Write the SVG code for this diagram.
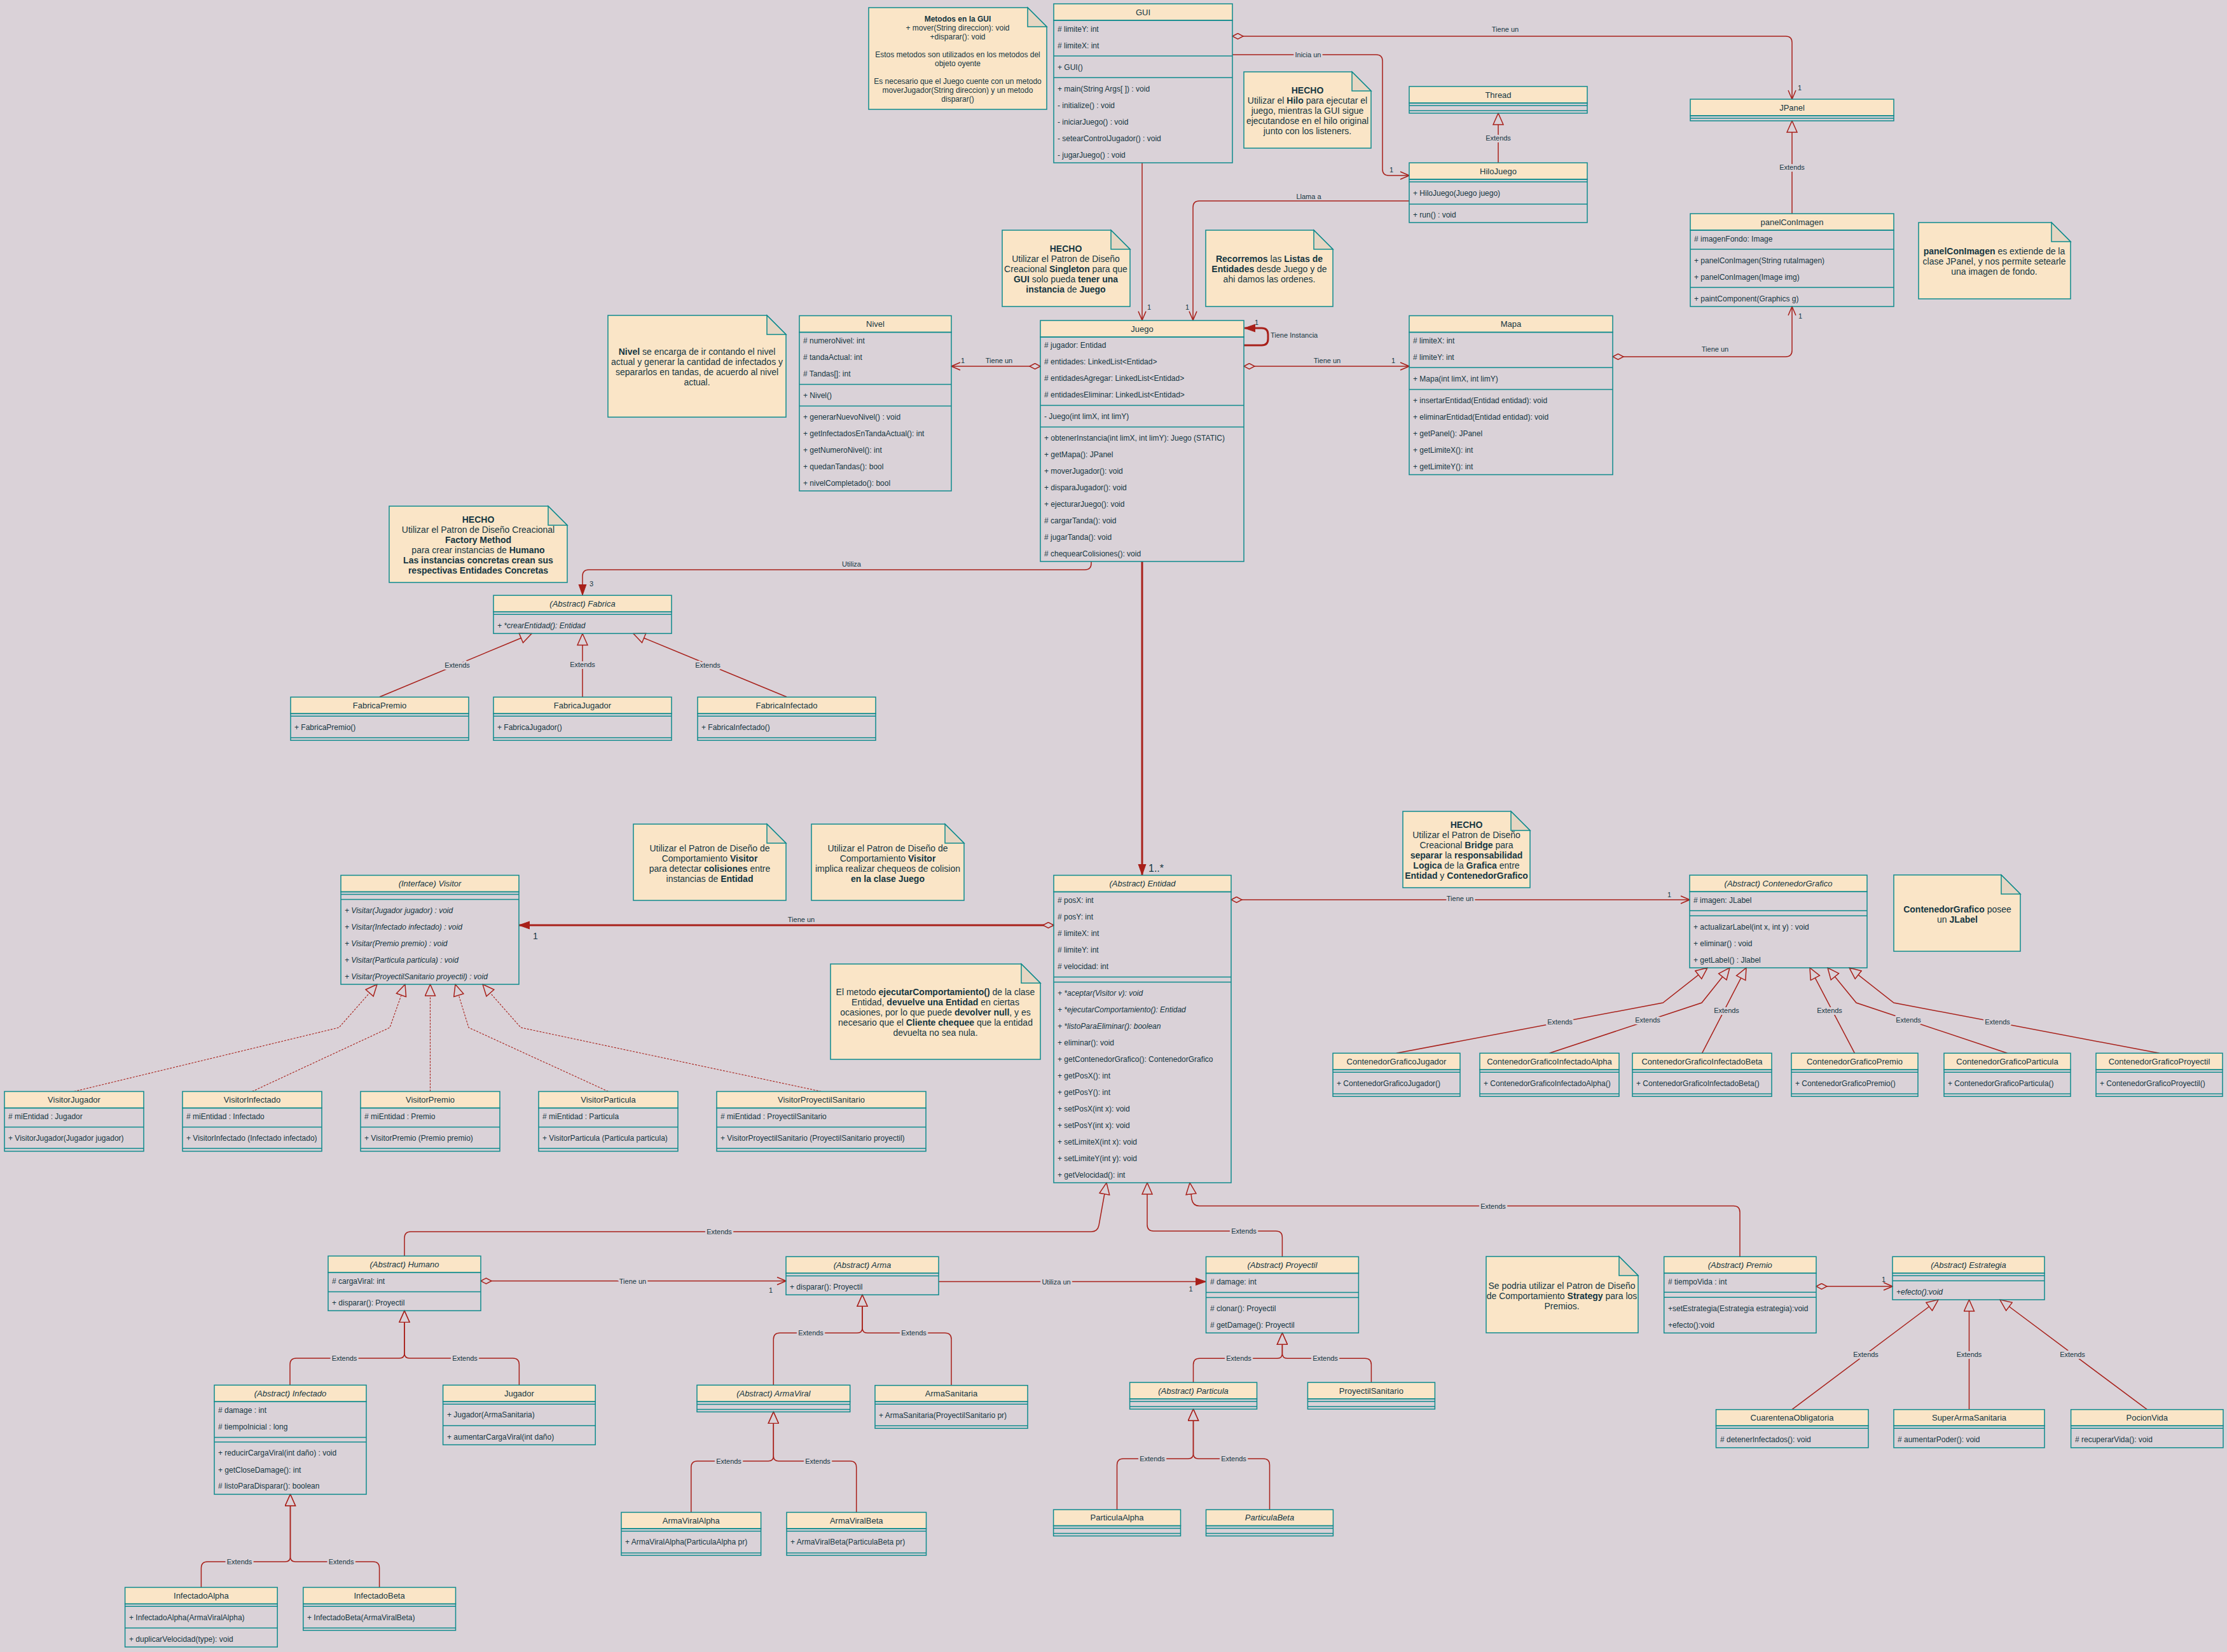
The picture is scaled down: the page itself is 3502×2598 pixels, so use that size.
<svg xmlns="http://www.w3.org/2000/svg" width="3502" height="2598" viewBox="0 0 3502 2598">
<style>
text{font-family:"Liberation Sans",Arial,sans-serif;fill:#143642}
.hd{fill:#FAE5C7;stroke:#0F8B8D;stroke-width:1.5}
.bd{fill:none;stroke:#0F8B8D;stroke-width:1.5}
.sp{fill:none;stroke:#0F8B8D;stroke-width:1.5}
.t{font-size:12px}
.n{font-size:13px;text-anchor:middle}
.i{font-style:italic}
.nb{fill:#FAE5C7;stroke:#0F8B8D;stroke-width:1.5}
.fd{fill:#E6D6C2;stroke:#0F8B8D;stroke-width:1.5}
.nt{font-size:14px;text-anchor:middle}
.ns{font-size:12px;text-anchor:middle}
.b{font-weight:bold}
.e{fill:none;stroke:#A8201A;stroke-width:1.5}
.ek{fill:none;stroke:#A8201A;stroke-width:3}
.d{stroke-dasharray:3 2;stroke-width:1.1}
.lb{font-size:11px;text-anchor:middle;paint-order:stroke;stroke:#DAD2D8;stroke-width:6;stroke-linejoin:round}
.lt{font-size:11px;text-anchor:middle}
</style>
<defs>
<marker id="tri" viewBox="0 0 20 18" refX="19" refY="9" markerWidth="20" markerHeight="18" markerUnits="userSpaceOnUse" orient="auto"><path d="M1,1 L19,9 L1,17 Z" fill="#DAD2D8" stroke="#A8201A" stroke-width="1.5"/></marker>
<marker id="oa" viewBox="0 0 16 14" refX="15" refY="7" markerWidth="16" markerHeight="14" markerUnits="userSpaceOnUse" orient="auto"><path d="M1,1 L15,7 L1,13" fill="none" stroke="#A8201A" stroke-width="1.5"/></marker>
<marker id="fa" viewBox="0 0 18 14" refX="17" refY="7" markerWidth="18" markerHeight="14" markerUnits="userSpaceOnUse" orient="auto"><path d="M0,1 L17,7 L0,13 Z" fill="#A8201A" stroke="#A8201A" stroke-width="1"/></marker>
<marker id="dm" viewBox="0 0 19 11" refX="1" refY="5.5" markerWidth="19" markerHeight="11" markerUnits="userSpaceOnUse" orient="auto"><path d="M1,5.5 L9.5,1 L18,5.5 L9.5,10 Z" fill="#DAD2D8" stroke="#A8201A" stroke-width="1.5"/></marker>
</defs>
<rect x="0" y="0" width="3502" height="2598" fill="#DAD2D8"/>

<g id="connectors">
<path class="e" marker-start="url(#dm)" marker-end="url(#oa)" d="M1938 57H2808Q2818 57 2818 67V156"/>
<path class="e" marker-end="url(#oa)" d="M1938 86H2164Q2174 86 2174 96V266Q2174 276 2184 276H2216"/>
<path class="e" marker-end="url(#tri)" d="M2356 256V178"/>
<path class="e" marker-end="url(#oa)" d="M2216 316H1886Q1876 316 1876 326V503.6"/>
<path class="e" marker-end="url(#oa)" d="M1796 256V503.6"/>
<path class="e" marker-end="url(#tri)" d="M2818 336V190"/>
<path class="e" marker-start="url(#dm)" marker-end="url(#oa)" d="M2536 561H2808Q2818 561 2818 551V482"/>
<path class="e" marker-start="url(#dm)" marker-end="url(#oa)" d="M1636 576H1496"/>
<path class="e" marker-start="url(#dm)" marker-end="url(#oa)" d="M1956 576H2216"/>
<path class="ek" marker-end="url(#fa)" d="M1956 543H1984Q1994 543 1994 533V526Q1994 516 1984 516H1957"/>
<path class="ek" marker-end="url(#fa)" d="M1796 883V1376"/>
<path class="e" marker-end="url(#fa)" d="M1716 883V886Q1716 896 1706 896H926Q916 896 916 906V936"/>
<path class="e" marker-end="url(#tri)" d="M597 1096L836 996.5"/>
<path class="e" marker-end="url(#tri)" d="M916 1096V996.5"/>
<path class="e" marker-end="url(#tri)" d="M1237 1096L996 996.5"/>
<path class="e d" marker-end="url(#tri)" d="M116.5 1716.5L533 1616L593 1548"/>
<path class="e d" marker-end="url(#tri)" d="M396.5 1716.5L613 1616L637 1548"/>
<path class="e d" marker-end="url(#tri)" d="M676.5 1716.5V1548"/>
<path class="e d" marker-end="url(#tri)" d="M956.5 1716.5L737 1616L716 1548"/>
<path class="e d" marker-end="url(#tri)" d="M1291.5 1716.5L819 1616L759 1548"/>
<path class="ek" marker-start="url(#dm)" marker-end="url(#fa)" d="M1657 1455H816"/>
<path class="e" marker-start="url(#dm)" marker-end="url(#oa)" d="M1936 1415H2657"/>
<path class="e" marker-end="url(#tri)" d="M2196 1656.3L2615 1577L2685 1522"/>
<path class="e" marker-end="url(#tri)" d="M2436.5 1656.3L2676 1577L2720 1522"/>
<path class="e" marker-end="url(#tri)" d="M2676.5 1656.3L2746 1522"/>
<path class="e" marker-end="url(#tri)" d="M2916.5 1656.3L2846 1522"/>
<path class="e" marker-end="url(#tri)" d="M3156.5 1656.3L2919 1577L2874 1522"/>
<path class="e" marker-end="url(#tri)" d="M3395.5 1656.3L2978 1577L2908 1522"/>
<path class="e" marker-end="url(#tri)" d="M636 1975.3V1947Q636 1937 646 1937H1716Q1726 1937 1728 1927L1740 1860"/>
<path class="e" marker-end="url(#tri)" d="M2016.4 1976.4V1946Q2016.4 1936 2006.4 1936H1814Q1804 1936 1804 1926V1860"/>
<path class="e" marker-end="url(#tri)" d="M2736 1976.3V1906.5Q2736 1896.5 2726 1896.5H1886Q1876 1896.5 1874 1886L1871 1860"/>
<path class="e" marker-start="url(#dm)" marker-end="url(#oa)" d="M756 2014.5H1236"/>
<path class="e" marker-end="url(#tri)" d="M456 2178.3V2146Q456 2136 466 2136H628Q636 2136 636 2128V2061.4"/>
<path class="e" marker-end="url(#tri)" d="M816.4 2178.3V2146Q816.4 2136 806.4 2136H644Q636 2136 636 2128V2061.4"/>
<path class="e" marker-end="url(#tri)" d="M316.4 2496.4V2466Q316.4 2456 326.4 2456H448.5Q456.5 2456 456.5 2448V2350"/>
<path class="e" marker-end="url(#tri)" d="M596.6 2496.4V2466Q596.6 2456 586.6 2456H464.5Q456.5 2456 456.5 2448V2350"/>
<path class="e" marker-end="url(#tri)" d="M1216.3 2178.3V2106.3Q1216.3 2096.3 1226.3 2096.3H1348Q1356 2096.3 1356 2088.3V2036.3"/>
<path class="e" marker-end="url(#tri)" d="M1496 2178.7V2106.3Q1496 2096.3 1486 2096.3H1364Q1356 2096.3 1356 2088.3V2036.3"/>
<path class="e" marker-end="url(#tri)" d="M1086.8 2378.4V2307.7Q1086.8 2297.7 1096.8 2297.7H1208.3Q1216.3 2297.7 1216.3 2289.7V2220.4"/>
<path class="e" marker-end="url(#tri)" d="M1346.7 2378.4V2307.7Q1346.7 2297.7 1336.7 2297.7H1224.3Q1216.3 2297.7 1216.3 2289.7V2220.4"/>
<path class="e" marker-end="url(#fa)" d="M1476 2015.5H1896.5"/>
<path class="e" marker-end="url(#tri)" d="M1876.5 2174.1V2146.2Q1876.5 2136.2 1886.5 2136.2H2008.4Q2016.4 2136.2 2016.4 2128.2V2096.2"/>
<path class="e" marker-end="url(#tri)" d="M2156.4 2174.1V2146.2Q2156.4 2136.2 2146.4 2136.2H2024.4Q2016.4 2136.2 2016.4 2128.2V2096.2"/>
<path class="e" marker-end="url(#tri)" d="M1756.5 2374.2V2304Q1756.5 2294 1766.5 2294H1868.5Q1876.5 2294 1876.5 2286V2216"/>
<path class="e" marker-end="url(#tri)" d="M1996.5 2374.2V2304Q1996.5 2294 1986.5 2294H1884.5Q1876.5 2294 1876.5 2286V2216"/>
<path class="e" marker-start="url(#dm)" marker-end="url(#oa)" d="M2856 2023H2976"/>
<path class="e" marker-end="url(#tri)" d="M2818 2216.7L3048 2044"/>
<path class="e" marker-end="url(#tri)" d="M3096.5 2216.7V2044"/>
<path class="e" marker-end="url(#tri)" d="M3376.3 2216.7L3145 2044"/>

<text class="lt" x="2367" y="50">Tiene un</text>
<text class="lt" x="2830" y="142">1</text>
<text class="lb" x="2057" y="90">Inicia un</text>
<text class="lt" x="2188" y="271">1</text>
<text class="lb" x="2356" y="221">Extends</text>
<text class="lt" x="2058" y="313">Llama a</text>
<text class="lt" x="1807" y="487">1</text>
<text class="lt" x="1867" y="487">1</text>
<text class="lb" x="2818" y="267">Extends</text>
<text class="lt" x="2697" y="553">Tiene un</text>
<text class="lt" x="2831" y="501">1</text>
<text class="lt" x="1571" y="571">Tiene un</text>
<text class="lt" x="1514" y="571">1</text>
<text class="lt" x="2087" y="571">Tiene un</text>
<text class="lt" x="2191" y="571">1</text>
<text class="lt" x="1976" y="511">1</text>
<text class="lt" x="1998" y="531" style="text-anchor:start">Tiene Instancia</text>
<text x="1806" y="1371" style="font-size:16px">1..*</text>
<text class="lt" x="1339" y="891">Utiliza</text>
<text class="lt" x="930" y="922">3</text>
<text class="lb" x="719" y="1050">Extends</text>
<text class="lb" x="916" y="1049">Extends</text>
<text class="lb" x="1113" y="1050">Extends</text>
<text class="lt" x="1260" y="1450">Tiene un</text>
<text x="842" y="1477" style="font-size:14px;text-anchor:middle">1</text>
<text class="lb" x="2296" y="1417">Tiene un</text>
<text class="lt" x="2625" y="1411">1</text>
<text class="lb" x="2453" y="1611">Extends</text>
<text class="lb" x="2591" y="1608">Extends</text>
<text class="lb" x="2715" y="1593">Extends</text>
<text class="lb" x="2877" y="1593">Extends</text>
<text class="lb" x="3001" y="1608">Extends</text>
<text class="lb" x="3141" y="1611">Extends</text>
<text class="lb" x="1131" y="1941">Extends</text>
<text class="lb" x="1956" y="1940">Extends</text>
<text class="lb" x="2348" y="1900.5">Extends</text>
<text class="lb" x="995" y="2018.5">Tiene un</text>
<text class="lt" x="1212" y="2033">1</text>
<text class="lb" x="541.5" y="2140">Extends</text>
<text class="lb" x="731" y="2140">Extends</text>
<text class="lb" x="376.5" y="2460">Extends</text>
<text class="lb" x="536.6" y="2460">Extends</text>
<text class="lb" x="1275" y="2100">Extends</text>
<text class="lb" x="1437" y="2100">Extends</text>
<text class="lb" x="1146" y="2301.7">Extends</text>
<text class="lb" x="1286" y="2301.7">Extends</text>
<text class="lb" x="1661" y="2019.5">Utiliza un</text>
<text class="lt" x="1872.5" y="2031">1</text>
<text class="lb" x="1948" y="2140">Extends</text>
<text class="lb" x="2084" y="2140">Extends</text>
<text class="lb" x="1812" y="2298">Extends</text>
<text class="lb" x="1940" y="2298">Extends</text>
<text class="lt" x="2962" y="2016">1</text>
<text class="lb" x="2934" y="2134">Extends</text>
<text class="lb" x="3096.5" y="2134">Extends</text>
<text class="lb" x="3259" y="2134">Extends</text>
</g>

<g id="note-gui">
<path class="nb" d="M1366 12H1616L1646 42V172H1366Z"/><path class="fd" d="M1616 12V42H1646Z"/>
<text class="ns b" x="1506" y="34">Metodos en la GUI</text>
<text class="ns" x="1506" y="48">+ mover(String direccion): void</text>
<text class="ns" x="1506" y="62">+disparar(): void</text>
<text class="ns" x="1506" y="90">Estos metodos son utilizados en los metodos del</text>
<text class="ns" x="1506" y="104">objeto oyente</text>
<text class="ns" x="1506" y="132">Es necesario que el Juego cuente con un metodo</text>
<text class="ns" x="1506" y="146">moverJugador(String direccion) y un metodo</text>
<text class="ns" x="1506" y="160">disparar()</text>
</g>
<g id="note-hilo">
<path class="nb" d="M1956 113H2126L2156 143V233H1956Z"/><path class="fd" d="M2126 113V143H2156Z"/>
<text class="nt b" x="2056" y="147">HECHO</text>
<text class="nt" x="2056" y="163">Utilizar el <tspan class="b">Hilo</tspan> para ejecutar el</text>
<text class="nt" x="2056" y="179">juego, mientras la GUI sigue</text>
<text class="nt" x="2056" y="195">ejecutandose en el hilo original</text>
<text class="nt" x="2056" y="211">junto con los listeners.</text>
</g>
<g id="note-singleton">
<path class="nb" d="M1576 362H1747L1777 392V482H1576Z"/><path class="fd" d="M1747 362V392H1777Z"/>
<text class="nt b" x="1676" y="396">HECHO</text>
<text class="nt" x="1676" y="412">Utilizar el Patron de Diseño</text>
<text class="nt" x="1676" y="428">Creacional <tspan class="b">Singleton</tspan> para que</text>
<text class="nt" x="1676" y="444"><tspan class="b">GUI</tspan> solo pueda <tspan class="b">tener una</tspan></text>
<text class="nt" x="1676" y="460"><tspan class="b">instancia</tspan> de <tspan class="b">Juego</tspan></text>
</g>
<g id="note-listas">
<path class="nb" d="M1896 362H2066L2096 392V482H1896Z"/><path class="fd" d="M2066 362V392H2096Z"/>
<text class="nt" x="1996" y="412"><tspan class="b">Recorremos</tspan> las <tspan class="b">Listas de</tspan></text>
<text class="nt" x="1996" y="428"><tspan class="b">Entidades</tspan> desde Juego y de</text>
<text class="nt" x="1996" y="444">ahi damos las ordenes.</text>
</g>
<g id="note-nivel">
<path class="nb" d="M956 496H1206L1236 526V656H956Z"/><path class="fd" d="M1206 496V526H1236Z"/>
<text class="nt" x="1096" y="558"><tspan class="b">Nivel</tspan> se encarga de ir contando el nivel</text>
<text class="nt" x="1096" y="574">actual y generar la cantidad de infectados y</text>
<text class="nt" x="1096" y="590">separarlos en tandas, de acuerdo al nivel</text>
<text class="nt" x="1096" y="606">actual.</text>
</g>
<g id="note-panel">
<path class="nb" d="M3017 350H3226L3256 380V470H3017Z"/><path class="fd" d="M3226 350V380H3256Z"/>
<text class="nt" x="3136" y="400"><tspan class="b">panelConImagen</tspan> es extiende de la</text>
<text class="nt" x="3136" y="416">clase JPanel, y nos permite setearle</text>
<text class="nt" x="3136" y="432">una imagen de fondo.</text>
</g>
<g id="note-factory">
<path class="nb" d="M612 796H862L892 826V916H612Z"/><path class="fd" d="M862 796V826H892Z"/>
<text class="nt b" x="752" y="822">HECHO</text>
<text class="nt" x="752" y="838">Utilizar el Patron de Diseño Creacional</text>
<text class="nt b" x="752" y="854">Factory Method</text>
<text class="nt" x="752" y="870">para crear instancias de <tspan class="b">Humano</tspan></text>
<text class="nt b" x="752" y="886">Las instancias concretas crean sus</text>
<text class="nt b" x="752" y="902">respectivas Entidades Concretas</text>
</g>
<g id="note-visitor1">
<path class="nb" d="M996 1296H1206L1236 1326V1416H996Z"/><path class="fd" d="M1206 1296V1326H1236Z"/>
<text class="nt" x="1116" y="1338.5">Utilizar el Patron de Diseño de</text>
<text class="nt" x="1116" y="1354.5">Comportamiento <tspan class="b">Visitor</tspan></text>
<text class="nt" x="1116" y="1370.5">para detectar <tspan class="b">colisiones</tspan> entre</text>
<text class="nt" x="1116" y="1386.5">instancias de <tspan class="b">Entidad</tspan></text>
</g>
<g id="note-visitor2">
<path class="nb" d="M1276 1296H1486L1516 1326V1416H1276Z"/><path class="fd" d="M1486 1296V1326H1516Z"/>
<text class="nt" x="1396" y="1338.5">Utilizar el Patron de Diseño de</text>
<text class="nt" x="1396" y="1354.5">Comportamiento <tspan class="b">Visitor</tspan></text>
<text class="nt" x="1396" y="1370.5">implica realizar chequeos de colision</text>
<text class="nt b" x="1396" y="1386.5">en la clase Juego</text>
</g>
<g id="note-ejecutar">
<path class="nb" d="M1306 1516H1606L1636 1546V1666H1306Z"/><path class="fd" d="M1606 1516V1546H1636Z"/>
<text class="nt" x="1471" y="1565">El metodo <tspan class="b">ejecutarComportamiento()</tspan> de la clase</text>
<text class="nt" x="1471" y="1581">Entidad, <tspan class="b">devuelve una Entidad</tspan> en ciertas</text>
<text class="nt" x="1471" y="1597">ocasiones, por lo que puede <tspan class="b">devolver null</tspan>, y es</text>
<text class="nt" x="1471" y="1613">necesario que el <tspan class="b">Cliente chequee</tspan> que la entidad</text>
<text class="nt" x="1471" y="1629">devuelta no sea nula.</text>
</g>
<g id="note-bridge">
<path class="nb" d="M2206 1276H2376L2406 1306V1396H2206Z"/><path class="fd" d="M2376 1276V1306H2406Z"/>
<text class="nt b" x="2306" y="1302">HECHO</text>
<text class="nt" x="2306" y="1318">Utilizar el Patron de Diseño</text>
<text class="nt" x="2306" y="1334">Creacional <tspan class="b">Bridge</tspan> para</text>
<text class="nt" x="2306" y="1350"><tspan class="b">separar</tspan> la <tspan class="b">responsabilidad</tspan></text>
<text class="nt" x="2306" y="1366"><tspan class="b">Logica</tspan> de la <tspan class="b">Grafica</tspan> entre</text>
<text class="nt" x="2306" y="1382"><tspan class="b">Entidad</tspan> y <tspan class="b">ContenedorGrafico</tspan></text>
</g>
<g id="note-contenedor">
<path class="nb" d="M2978 1376H3147L3177 1406V1496H2978Z"/><path class="fd" d="M3147 1376V1406H3177Z"/>
<text class="nt" x="3078" y="1434.5"><tspan class="b">ContenedorGrafico</tspan> posee</text>
<text class="nt" x="3078" y="1450.5">un <tspan class="b">JLabel</tspan></text>
</g>
<g id="note-strategy">
<path class="nb" d="M2337 1976H2546L2576 2006V2096H2337Z"/><path class="fd" d="M2546 1976V2006H2576Z"/>
<text class="nt" x="2456" y="2026.5">Se podria utilizar el Patron de Diseño</text>
<text class="nt" x="2456" y="2042.5">de Comportamiento <tspan class="b">Strategy</tspan> para los</text>
<text class="nt" x="2456" y="2058.5">Premios.</text>
</g>

<g id="GUI">
<rect class="hd" x="1657" y="6" width="281" height="26"/><rect class="bd" x="1657" y="32" width="281" height="224"/>
<path class="sp" d="M1657 88H1938M1657 122H1938"/>
<text class="n" x="1797.5" y="23.5">GUI</text>
<text class="t" x="1663" y="50"># limiteY: int</text>
<text class="t" x="1663" y="76"># limiteX: int</text>
<text class="t" x="1663" y="110">+ GUI()</text>
<text class="t" x="1663" y="144">+ main(String Args[ ]) : void</text>
<text class="t" x="1663" y="170">- initialize() : void</text>
<text class="t" x="1663" y="196">- iniciarJuego() : void</text>
<text class="t" x="1663" y="222">- setearControlJugador() : void</text>
<text class="t" x="1663" y="248">- jugarJuego() : void</text>
</g>
<g id="Thread">
<rect class="hd" x="2216" y="136" width="280" height="26"/><rect class="bd" x="2216" y="162" width="280" height="16"/>
<path class="sp" d="M2216 166H2496M2216 174H2496"/>
<text class="n" x="2356" y="153.5">Thread</text>
</g>
<g id="HiloJuego">
<rect class="hd" x="2216" y="256" width="280" height="26"/><rect class="bd" x="2216" y="282" width="280" height="68"/>
<path class="sp" d="M2216 286H2496M2216 321H2496"/>
<text class="n" x="2356" y="273.5">HiloJuego</text>
<text class="t" x="2222" y="308">+ HiloJuego(Juego juego)</text>
<text class="t" x="2222" y="342">+ run() : void</text>
</g>
<g id="JPanel">
<rect class="hd" x="2658" y="156" width="320" height="26"/><rect class="bd" x="2658" y="182" width="320" height="8"/>
<path class="sp" d="M2658 186H2978"/>
<text class="n" x="2818" y="173.5">JPanel</text>
</g>
<g id="panelConImagen">
<rect class="hd" x="2658" y="336" width="320" height="26"/><rect class="bd" x="2658" y="362" width="320" height="120"/>
<path class="sp" d="M2658 392H2978M2658 452H2978"/>
<text class="n" x="2818" y="353.5">panelConImagen</text>
<text class="t" x="2664" y="380"># imagenFondo: Image</text>
<text class="t" x="2664" y="414">+ panelConImagen(String rutaImagen)</text>
<text class="t" x="2664" y="440">+ panelConImagen(Image img)</text>
<text class="t" x="2664" y="474">+ paintComponent(Graphics g)</text>
</g>
<g id="Juego">
<rect class="hd" x="1636" y="504" width="320" height="26"/><rect class="bd" x="1636" y="530" width="320" height="353"/>
<path class="sp" d="M1636 637.5H1956M1636 671.5H1956"/>
<text class="n" x="1796" y="521.5">Juego</text>
<text class="t" x="1642" y="547"># jugador: Entidad</text>
<text class="t" x="1642" y="573"># entidades: LinkedList&lt;Entidad&gt;</text>
<text class="t" x="1642" y="599"># entidadesAgregar: LinkedList&lt;Entidad&gt;</text>
<text class="t" x="1642" y="625"># entidadesEliminar: LinkedList&lt;Entidad&gt;</text>
<text class="t" x="1642" y="659">- Juego(int limX, int limY)</text>
<text class="t" x="1642" y="693">+ obtenerInstancia(int limX, int limY): Juego (STATIC)</text>
<text class="t" x="1642" y="719">+ getMapa(): JPanel</text>
<text class="t" x="1642" y="745">+ moverJugador(): void</text>
<text class="t" x="1642" y="771">+ disparaJugador(): void</text>
<text class="t" x="1642" y="797">+ ejecturarJuego(): void</text>
<text class="t" x="1642" y="823"># cargarTanda(): void</text>
<text class="t" x="1642" y="849"># jugarTanda(): void</text>
<text class="t" x="1642" y="875"># chequearColisiones(): void</text>
</g>
<g id="Nivel">
<rect class="hd" x="1257" y="496.5" width="239" height="26"/><rect class="bd" x="1257" y="522.5" width="239" height="249.5"/>
<path class="sp" d="M1257 604.5H1496M1257 638.5H1496"/>
<text class="n" x="1376.5" y="514">Nivel</text>
<text class="t" x="1263" y="540"># numeroNivel: int</text>
<text class="t" x="1263" y="566"># tandaActual: int</text>
<text class="t" x="1263" y="592"># Tandas[]: int</text>
<text class="t" x="1263" y="626">+ Nivel()</text>
<text class="t" x="1263" y="660">+ generarNuevoNivel() : void</text>
<text class="t" x="1263" y="686">+ getInfectadosEnTandaActual(): int</text>
<text class="t" x="1263" y="712">+ getNumeroNivel(): int</text>
<text class="t" x="1263" y="738">+ quedanTandas(): bool</text>
<text class="t" x="1263" y="764">+ nivelCompletado(): bool</text>
</g>
<g id="Mapa">
<rect class="hd" x="2216" y="496.5" width="320" height="26"/><rect class="bd" x="2216" y="522.5" width="320" height="224"/>
<path class="sp" d="M2216 578H2536M2216 612.5H2536"/>
<text class="n" x="2376" y="514">Mapa</text>
<text class="t" x="2222" y="540"># limiteX: int</text>
<text class="t" x="2222" y="566"># limiteY: int</text>
<text class="t" x="2222" y="600">+ Mapa(int limX, int limY)</text>
<text class="t" x="2222" y="634">+ insertarEntidad(Entidad entidad): void</text>
<text class="t" x="2222" y="660">+ eliminarEntidad(Entidad entidad): void</text>
<text class="t" x="2222" y="686">+ getPanel(): JPanel</text>
<text class="t" x="2222" y="712">+ getLimiteX(): int</text>
<text class="t" x="2222" y="738">+ getLimiteY(): int</text>
</g>
<g id="Fabrica">
<rect class="hd" x="776" y="936.3" width="280" height="26"/><rect class="bd" x="776" y="962.3" width="280" height="34"/>
<path class="sp" d="M776 966.3H1056"/>
<text class="n i" x="916" y="953.8">(Abstract) Fabrica</text>
<text class="t i" x="782" y="988">+ *crearEntidad(): Entidad</text>
</g>
<g id="FabricaPremio">
<rect class="hd" x="457" y="1096.3" width="280" height="26"/><rect class="bd" x="457" y="1122.3" width="280" height="42"/>
<path class="sp" d="M457 1126.3H737M457 1160.3H737"/>
<text class="n" x="597" y="1113.8">FabricaPremio</text>
<text class="t" x="463" y="1148">+ FabricaPremio()</text>
</g>
<g id="FabricaJugador">
<rect class="hd" x="776" y="1096.3" width="280" height="26"/><rect class="bd" x="776" y="1122.3" width="280" height="42"/>
<path class="sp" d="M776 1126.3H1056M776 1160.3H1056"/>
<text class="n" x="916" y="1113.8">FabricaJugador</text>
<text class="t" x="782" y="1148">+ FabricaJugador()</text>
</g>
<g id="FabricaInfectado">
<rect class="hd" x="1097" y="1096.3" width="280" height="26"/><rect class="bd" x="1097" y="1122.3" width="280" height="42"/>
<path class="sp" d="M1097 1126.3H1377M1097 1160.3H1377"/>
<text class="n" x="1237" y="1113.8">FabricaInfectado</text>
<text class="t" x="1103" y="1148">+ FabricaInfectado()</text>
</g>
<g id="Visitor">
<rect class="hd" x="536" y="1376.5" width="280" height="26"/><rect class="bd" x="536" y="1402.5" width="280" height="145.5"/>
<path class="sp" d="M536 1406.5H816M536 1414.5H816"/>
<text class="n i" x="676" y="1394">(Interface) Visitor</text>
<text class="t i" x="542" y="1436">+ Visitar(Jugador jugador) : void</text>
<text class="t i" x="542" y="1462">+ Visitar(Infectado infectado) : void</text>
<text class="t i" x="542" y="1488">+ Visitar(Premio premio) : void</text>
<text class="t i" x="542" y="1514">+ Visitar(Particula particula) : void</text>
<text class="t i" x="542" y="1540">+ Visitar(ProyectilSanitario proyectil) : void</text>
</g>
<g id="VisitorJugador">
<rect class="hd" x="7" y="1716.5" width="219" height="26"/><rect class="bd" x="7" y="1742.5" width="219" height="68"/>
<path class="sp" d="M7 1772.5H226M7 1806H226"/>
<text class="n" x="116.5" y="1734">VisitorJugador</text>
<text class="t" x="13" y="1760"># miEntidad : Jugador</text>
<text class="t" x="13" y="1794">+ VisitorJugador(Jugador jugador)</text>
</g>
<g id="VisitorInfectado">
<rect class="hd" x="287" y="1716.5" width="219" height="26"/><rect class="bd" x="287" y="1742.5" width="219" height="68"/>
<path class="sp" d="M287 1772.5H506M287 1806H506"/>
<text class="n" x="396.5" y="1734">VisitorInfectado</text>
<text class="t" x="293" y="1760"># miEntidad : Infectado</text>
<text class="t" x="293" y="1794">+ VisitorInfectado (Infectado infectado)</text>
</g>
<g id="VisitorPremio">
<rect class="hd" x="567" y="1716.5" width="219" height="26"/><rect class="bd" x="567" y="1742.5" width="219" height="68"/>
<path class="sp" d="M567 1772.5H786M567 1806H786"/>
<text class="n" x="676.5" y="1734">VisitorPremio</text>
<text class="t" x="573" y="1760"># miEntidad : Premio</text>
<text class="t" x="573" y="1794">+ VisitorPremio (Premio premio)</text>
</g>
<g id="VisitorParticula">
<rect class="hd" x="847" y="1716.5" width="219" height="26"/><rect class="bd" x="847" y="1742.5" width="219" height="68"/>
<path class="sp" d="M847 1772.5H1066M847 1806H1066"/>
<text class="n" x="956.5" y="1734">VisitorParticula</text>
<text class="t" x="853" y="1760"># miEntidad : Particula</text>
<text class="t" x="853" y="1794">+ VisitorParticula (Particula particula)</text>
</g>
<g id="VisitorProyectilSanitario">
<rect class="hd" x="1127" y="1716.5" width="329" height="26"/><rect class="bd" x="1127" y="1742.5" width="329" height="68"/>
<path class="sp" d="M1127 1772.5H1456M1127 1806H1456"/>
<text class="n" x="1291.5" y="1734">VisitorProyectilSanitario</text>
<text class="t" x="1133" y="1760"># miEntidad : ProyectilSanitario</text>
<text class="t" x="1133" y="1794">+ VisitorProyectilSanitario (ProyectilSanitario proyectil)</text>
</g>
<g id="Entidad">
<rect class="hd" x="1657" y="1376.5" width="279" height="26"/><rect class="bd" x="1657" y="1402.5" width="279" height="457.5"/>
<path class="sp" d="M1657 1536.5H1936M1657 1544.5H1936"/>
<text class="n i" x="1796.5" y="1394">(Abstract) Entidad</text>
<text class="t" x="1663" y="1420"># posX: int</text>
<text class="t" x="1663" y="1446"># posY: int</text>
<text class="t" x="1663" y="1472"># limiteX: int</text>
<text class="t" x="1663" y="1498"># limiteY: int</text>
<text class="t" x="1663" y="1524"># velocidad: int</text>
<text class="t i" x="1663" y="1566">+ *aceptar(Visitor v): void</text>
<text class="t i" x="1663" y="1592">+ *ejecutarComportamiento(): Entidad</text>
<text class="t i" x="1663" y="1618">+ *listoParaEliminar(): boolean</text>
<text class="t" x="1663" y="1644">+ eliminar(): void</text>
<text class="t" x="1663" y="1670">+ getContenedorGrafico(): ContenedorGrafico</text>
<text class="t" x="1663" y="1696">+ getPosX(): int</text>
<text class="t" x="1663" y="1722">+ getPosY(): int</text>
<text class="t" x="1663" y="1748">+ setPosX(int x): void</text>
<text class="t" x="1663" y="1774">+ setPosY(int x): void</text>
<text class="t" x="1663" y="1800">+ setLimiteX(int x): void</text>
<text class="t" x="1663" y="1826">+ setLimiteY(int y): void</text>
<text class="t" x="1663" y="1852">+ getVelocidad(): int</text>
</g>
<g id="ContenedorGrafico">
<rect class="hd" x="2657" y="1376.3" width="279" height="26"/><rect class="bd" x="2657" y="1402.3" width="279" height="119.7"/>
<path class="sp" d="M2657 1432.3H2936M2657 1440.3H2936"/>
<text class="n i" x="2796.5" y="1394">(Abstract) ContenedorGrafico</text>
<text class="t" x="2663" y="1420"># imagen: JLabel</text>
<text class="t" x="2663" y="1462">+ actualizarLabel(int x, int y) : void</text>
<text class="t" x="2663" y="1488">+ eliminar() : void</text>
<text class="t" x="2663" y="1514">+ getLabel() : Jlabel</text>
</g>
<g id="ContenedorGraficoJugador">
<rect class="hd" x="2096" y="1656.3" width="200" height="26"/><rect class="bd" x="2096" y="1682.3" width="200" height="42"/>
<path class="sp" d="M2096 1686.3H2296M2096 1720.3H2296"/>
<text class="n" x="2196" y="1673.8">ContenedorGraficoJugador</text>
<text class="t" x="2102" y="1708">+ ContenedorGraficoJugador()</text>
</g>
<g id="ContenedorGraficoInfectadoAlpha">
<rect class="hd" x="2327" y="1656.3" width="219" height="26"/><rect class="bd" x="2327" y="1682.3" width="219" height="42"/>
<path class="sp" d="M2327 1686.3H2546M2327 1720.3H2546"/>
<text class="n" x="2436.5" y="1673.8">ContenedorGraficoInfectadoAlpha</text>
<text class="t" x="2333" y="1708">+ ContenedorGraficoInfectadoAlpha()</text>
</g>
<g id="ContenedorGraficoInfectadoBeta">
<rect class="hd" x="2567" y="1656.3" width="219" height="26"/><rect class="bd" x="2567" y="1682.3" width="219" height="42"/>
<path class="sp" d="M2567 1686.3H2786M2567 1720.3H2786"/>
<text class="n" x="2676.5" y="1673.8">ContenedorGraficoInfectadoBeta</text>
<text class="t" x="2573" y="1708">+ ContenedorGraficoInfectadoBeta()</text>
</g>
<g id="ContenedorGraficoPremio">
<rect class="hd" x="2817" y="1656.3" width="199" height="26"/><rect class="bd" x="2817" y="1682.3" width="199" height="42"/>
<path class="sp" d="M2817 1686.3H3016M2817 1720.3H3016"/>
<text class="n" x="2916.5" y="1673.8">ContenedorGraficoPremio</text>
<text class="t" x="2823" y="1708">+ ContenedorGraficoPremio()</text>
</g>
<g id="ContenedorGraficoParticula">
<rect class="hd" x="3057" y="1656.3" width="199" height="26"/><rect class="bd" x="3057" y="1682.3" width="199" height="42"/>
<path class="sp" d="M3057 1686.3H3256M3057 1720.3H3256"/>
<text class="n" x="3156.5" y="1673.8">ContenedorGraficoParticula</text>
<text class="t" x="3063" y="1708">+ ContenedorGraficoParticula()</text>
</g>
<g id="ContenedorGraficoProyectil">
<rect class="hd" x="3296" y="1656.3" width="199" height="26"/><rect class="bd" x="3296" y="1682.3" width="199" height="42"/>
<path class="sp" d="M3296 1686.3H3495M3296 1720.3H3495"/>
<text class="n" x="3395.5" y="1673.8">ContenedorGraficoProyectil</text>
<text class="t" x="3302" y="1708">+ ContenedorGraficoProyectil()</text>
</g>
<g id="Humano">
<rect class="hd" x="516" y="1975.3" width="240" height="26"/><rect class="bd" x="516" y="2001.3" width="240" height="60"/>
<path class="sp" d="M516 2031.4H756"/>
<text class="n i" x="636" y="1992.8">(Abstract) Humano</text>
<text class="t" x="522" y="2018.5"># cargaViral: int</text>
<text class="t" x="522" y="2053">+ disparar(): Proyectil</text>
</g>
<g id="Arma">
<rect class="hd" x="1236" y="1976.3" width="240" height="26"/><rect class="bd" x="1236" y="2002.3" width="240" height="34"/>
<path class="sp" d="M1236 2006.4H1476"/>
<text class="n i" x="1356" y="1993.8">(Abstract) Arma</text>
<text class="t" x="1242" y="2028">+ disparar(): Proyectil</text>
</g>
<g id="Infectado">
<rect class="hd" x="337" y="2178.3" width="239" height="26"/><rect class="bd" x="337" y="2204.3" width="239" height="145.7"/>
<path class="sp" d="M337 2260.5H576M337 2267.7H576"/>
<text class="n i" x="456.5" y="2195.8">(Abstract) Infectado</text>
<text class="t" x="343" y="2221.5"># damage : int</text>
<text class="t" x="343" y="2247.6"># tiempoInicial : long</text>
<text class="t" x="343" y="2289">+ reducirCargaViral(int daño) : void</text>
<text class="t" x="343" y="2315.6">+ getCloseDamage(): int</text>
<text class="t" x="343" y="2341.3"># listoParaDisparar(): boolean</text>
</g>
<g id="Jugador">
<rect class="hd" x="696.6" y="2178.3" width="239.6" height="26"/><rect class="bd" x="696.6" y="2204.3" width="239.6" height="67.8"/>
<path class="sp" d="M696.6 2208.3H936.2M696.6 2242H936.2"/>
<text class="n" x="816.4" y="2195.8">Jugador</text>
<text class="t" x="703" y="2229.2">+ Jugador(ArmaSanitaria)</text>
<text class="t" x="703" y="2263.5">+ aumentarCargaViral(int daño)</text>
</g>
<g id="InfectadoAlpha">
<rect class="hd" x="196.6" y="2496.4" width="239.6" height="26"/><rect class="bd" x="196.6" y="2522.4" width="239.6" height="67.7"/>
<path class="sp" d="M196.6 2526.3H436.2M196.6 2560.2H436.2"/>
<text class="n" x="316.4" y="2513.9">InfectadoAlpha</text>
<text class="t" x="203" y="2547.7">+ InfectadoAlpha(ArmaViralAlpha)</text>
<text class="t" x="203" y="2581.6">+ duplicarVelocidad(type): void</text>
</g>
<g id="InfectadoBeta">
<rect class="hd" x="476.8" y="2496.4" width="239.7" height="26"/><rect class="bd" x="476.8" y="2522.4" width="239.7" height="41.6"/>
<path class="sp" d="M476.8 2526.3H716.5M476.8 2560.2H716.5"/>
<text class="n" x="596.6" y="2513.9">InfectadoBeta</text>
<text class="t" x="483" y="2547.7">+ InfectadoBeta(ArmaViralBeta)</text>
</g>
<g id="ArmaViral">
<rect class="hd" x="1096" y="2178.3" width="240.7" height="26"/><rect class="bd" x="1096" y="2204.3" width="240.7" height="16.1"/>
<path class="sp" d="M1096 2208.4H1336.7M1096 2216.4H1336.7"/>
<text class="n i" x="1216.3" y="2195.8">(Abstract) ArmaViral</text>
</g>
<g id="ArmaSanitaria">
<rect class="hd" x="1376" y="2178.7" width="240" height="25.6"/><rect class="bd" x="1376" y="2204.3" width="240" height="42"/>
<path class="sp" d="M1376 2208.3H1616M1376 2242.3H1616"/>
<text class="n" x="1496" y="2196">ArmaSanitaria</text>
<text class="t" x="1382" y="2230">+ ArmaSanitaria(ProyectilSanitario pr)</text>
</g>
<g id="ArmaViralAlpha">
<rect class="hd" x="977" y="2378.4" width="219.6" height="25.6"/><rect class="bd" x="977" y="2404" width="219.6" height="42"/>
<path class="sp" d="M977 2408H1196.6M977 2442.2H1196.6"/>
<text class="n" x="1086.8" y="2395.7">ArmaViralAlpha</text>
<text class="t" x="983" y="2429.3">+ ArmaViralAlpha(ParticulaAlpha pr)</text>
</g>
<g id="ArmaViralBeta">
<rect class="hd" x="1237" y="2378.4" width="219.5" height="25.6"/><rect class="bd" x="1237" y="2404" width="219.5" height="42"/>
<path class="sp" d="M1237 2408H1456.5M1237 2442.2H1456.5"/>
<text class="n" x="1346.7" y="2395.7">ArmaViralBeta</text>
<text class="t" x="1243" y="2429.3">+ ArmaViralBeta(ParticulaBeta pr)</text>
</g>
<g id="Proyectil">
<rect class="hd" x="1896.5" y="1976.4" width="239.9" height="26"/><rect class="bd" x="1896.5" y="2002.4" width="239.9" height="93.8"/>
<path class="sp" d="M1896.5 2032.6H2136.4M1896.5 2040.5H2136.4"/>
<text class="n i" x="2016.4" y="1993.9">(Abstract) Proyectil</text>
<text class="t" x="1903" y="2020"># damage: int</text>
<text class="t" x="1903" y="2062"># clonar(): Proyectil</text>
<text class="t" x="1903" y="2088"># getDamage(): Proyectil</text>
</g>
<g id="Particula">
<rect class="hd" x="1776.6" y="2174.1" width="199.9" height="25.7"/><rect class="bd" x="1776.6" y="2199.8" width="199.9" height="16.2"/>
<path class="sp" d="M1776.6 2204H1976.5M1776.6 2212H1976.5"/>
<text class="n i" x="1876.5" y="2191.5">(Abstract) Particula</text>
</g>
<g id="ProyectilSanitario">
<rect class="hd" x="2056.4" y="2174.1" width="200" height="25.7"/><rect class="bd" x="2056.4" y="2199.8" width="200" height="16.2"/>
<path class="sp" d="M2056.4 2204H2256.4M2056.4 2212H2256.4"/>
<text class="n" x="2156.4" y="2191.5">ProyectilSanitario</text>
</g>
<g id="ParticulaAlpha">
<rect class="hd" x="1656.6" y="2374.2" width="199.9" height="25.3"/><rect class="bd" x="1656.6" y="2399.5" width="199.9" height="16"/>
<path class="sp" d="M1656.6 2403.5H1856.5M1656.6 2411.5H1856.5"/>
<text class="n" x="1756.5" y="2391.3">ParticulaAlpha</text>
</g>
<g id="ParticulaBeta">
<rect class="hd" x="1896.5" y="2374.2" width="199.9" height="25.3"/><rect class="bd" x="1896.5" y="2399.5" width="199.9" height="16"/>
<path class="sp" d="M1896.5 2403.5H2096.4M1896.5 2411.5H2096.4"/>
<text class="n i" x="1996.5" y="2391.3">ParticulaBeta</text>
</g>
<g id="Premio">
<rect class="hd" x="2616.7" y="1976.3" width="239.3" height="26"/><rect class="bd" x="2616.7" y="2002.3" width="239.3" height="94"/>
<path class="sp" d="M2616.7 2032.3H2856M2616.7 2040.3H2856"/>
<text class="n i" x="2736.3" y="1993.8">(Abstract) Premio</text>
<text class="t" x="2623" y="2020"># tiempoVida : int</text>
<text class="t" x="2623" y="2062.3">+setEstrategia(Estrategia estrategia):void</text>
<text class="t" x="2623" y="2088">+efecto():void</text>
</g>
<g id="Estrategia">
<rect class="hd" x="2976" y="1976.3" width="239" height="26"/><rect class="bd" x="2976" y="2002.3" width="239" height="41.7"/>
<path class="sp" d="M2976 2006.3H3215M2976 2014.3H3215"/>
<text class="n i" x="3095.5" y="1993.8">(Abstract) Estrategia</text>
<text class="t i" x="2982" y="2036">+efecto():void</text>
</g>
<g id="CuarentenaObligatoria">
<rect class="hd" x="2698.5" y="2216.7" width="239.5" height="25.6"/><rect class="bd" x="2698.5" y="2242.3" width="239.5" height="34.4"/>
<path class="sp" d="M2698.5 2246.3H2938"/>
<text class="n" x="2818" y="2234">CuarentenaObligatoria</text>
<text class="t" x="2705" y="2268"># detenerInfectados(): void</text>
</g>
<g id="SuperArmaSanitaria">
<rect class="hd" x="2978" y="2216.7" width="237" height="25.6"/><rect class="bd" x="2978" y="2242.3" width="237" height="34.4"/>
<path class="sp" d="M2978 2246.3H3215"/>
<text class="n" x="3096.5" y="2234">SuperArmaSanitaria</text>
<text class="t" x="2984" y="2268"># aumentarPoder(): void</text>
</g>
<g id="PocionVida">
<rect class="hd" x="3256.6" y="2216.7" width="239.4" height="25.6"/><rect class="bd" x="3256.6" y="2242.3" width="239.4" height="34.4"/>
<path class="sp" d="M3256.6 2246.3H3496"/>
<text class="n" x="3376.3" y="2234">PocionVida</text>
<text class="t" x="3263" y="2268"># recuperarVida(): void</text>
</g>
</svg>
